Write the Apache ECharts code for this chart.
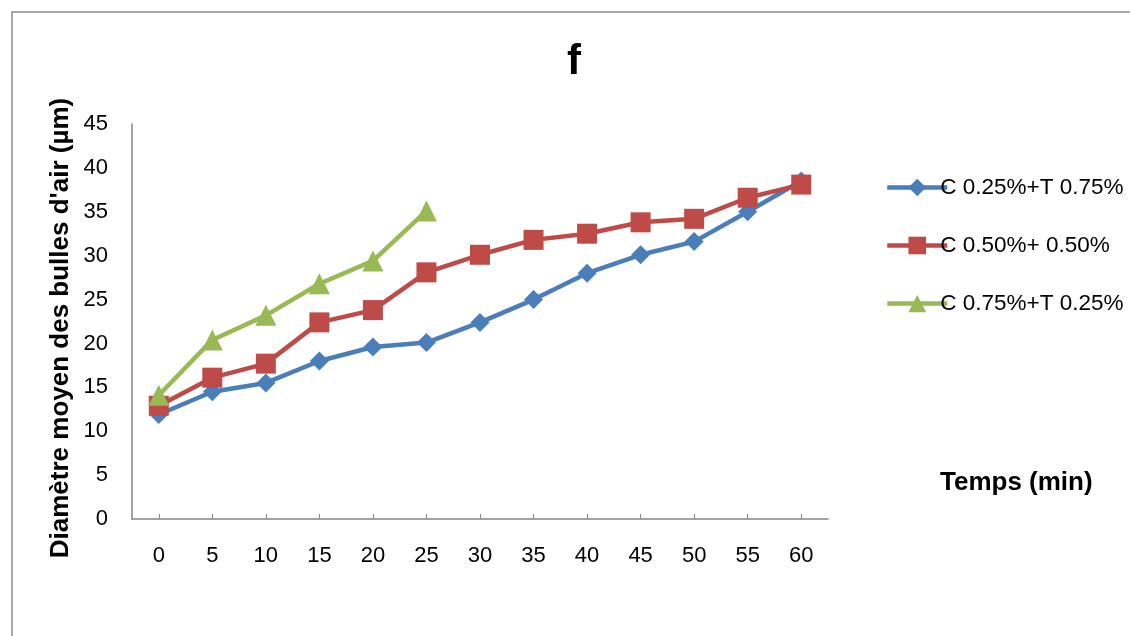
<!DOCTYPE html>
<html>
<head>
<meta charset="utf-8">
<script src="https://cdn.jsdelivr.net/npm/echarts@6/dist/echarts.min.js"></script>
<style>
  html, body { margin: 0; padding: 0; background: #fff; }
  #chart { width: 1130px; height: 636px; }
</style>
</head>
<body>
<div id="chart"></div>
<script>
// Time points (min)
const categories = ['0', '5', '10', '15', '20', '25', '30', '35', '40', '45', '50', '55', '60'];

// Mean air-bubble diameter (µm) for each formulation
const seriesC025 = [11.9, 14.5, 15.5, 18.0, 19.6, 20.1, 22.4, 25.0, 28.0, 30.1, 31.6, 35.0, 38.5];
const seriesC050 = [12.9, 16.1, 17.7, 22.4, 23.8, 28.1, 30.1, 31.8, 32.5, 33.8, 34.2, 36.6, 38.1];
const seriesC075 = [14.1, 20.4, 23.2, 26.8, 29.4, 35.1];

const seriesNames = ['C 0.25%+T 0.75%', 'C 0.50%+ 0.50%', 'C 0.75%+T 0.25%'];
const yTicks = { min: 0, max: 45, interval: 5 };

const FONT = "'Liberation Sans', Arial, sans-serif";
const AXIS_GRAY = '#868686';

const chart = echarts.init(document.getElementById('chart'), null, { renderer: 'canvas' });

function lineSeries(name, data, color, symbol, size) {
  return {
    name: name,
    type: 'line',
    data: data,
    symbol: symbol,
    symbolSize: size,
    showSymbol: true,
    lineStyle: { color: color, width: 4.5 },
    itemStyle: { color: color },
    emphasis: { disabled: true },
    z: 3
  };
}

chart.setOption({
  animation: false,
  backgroundColor: '#ffffff',
  grid: { left: 132, right: 302, top: 124, bottom: 117, containLabel: false },
  legend: {
    orient: 'vertical',
    left: 880,
    top: 171,
    padding: 5,
    itemWidth: 60,
    itemHeight: 22,
    itemGap: 35,
    selectedMode: false,
    lineStyle: { width: 4.5 },
    textStyle: { fontFamily: FONT, fontSize: 22.5, color: '#000', padding: [0, 0, 0, -12] },
    data: seriesNames
  },
  xAxis: {
    type: 'category',
    data: categories,
    boundaryGap: true,
    axisLine: { lineStyle: { color: AXIS_GRAY, width: 1.5 } },
    axisTick: { show: true, alignWithLabel: true, inside: true, length: 5, lineStyle: { color: AXIS_GRAY } },
    axisLabel: { margin: 26, fontFamily: FONT, fontSize: 22, color: '#000' },
    splitLine: { show: false }
  },
  yAxis: {
    type: 'value',
    min: yTicks.min,
    max: yTicks.max,
    interval: yTicks.interval,
    axisLine: { show: true, lineStyle: { color: AXIS_GRAY, width: 1.5 } },
    axisTick: { show: false },
    axisLabel: { margin: 24, fontFamily: FONT, fontSize: 22, color: '#000' },
    splitLine: { show: false }
  },
  graphic: [
    {
      type: 'rect',
      shape: { x: 12, y: 12, width: 1140, height: 640 },
      style: { fill: 'none', stroke: '#8c8c8c', lineWidth: 1.5 },
      silent: true,
      z: -1
    },
    {
      type: 'text',
      x: 574,
      y: 62,
      style: {
        text: 'f',
        fontFamily: FONT,
        fontWeight: 'bold',
        fontSize: 42,
        fill: '#000',
        textAlign: 'center',
        textVerticalAlign: 'middle'
      },
      silent: true
    },
    {
      type: 'text',
      x: 61,
      y: 328,
      rotation: Math.PI / 2,
      style: {
        text: "Diamètre moyen des bulles d'air (µm)",
        fontFamily: FONT,
        fontWeight: 'bold',
        fontSize: 26,
        fill: '#000',
        textAlign: 'center',
        textVerticalAlign: 'middle'
      },
      silent: true
    },
    {
      type: 'text',
      x: 940,
      y: 483,
      style: {
        text: 'Temps (min)',
        fontFamily: FONT,
        fontWeight: 'bold',
        fontSize: 26,
        fill: '#000',
        textAlign: 'left',
        textVerticalAlign: 'middle'
      },
      silent: true
    }
  ],
  series: [
    lineSeries(seriesNames[0], seriesC025, '#4a7ebb', 'diamond', 19),
    lineSeries(seriesNames[1], seriesC050, '#be4b48', 'rect', 20),
    lineSeries(seriesNames[2], seriesC075, '#98b954', 'triangle', 21)
  ]
});
</script>
</body>
</html>
